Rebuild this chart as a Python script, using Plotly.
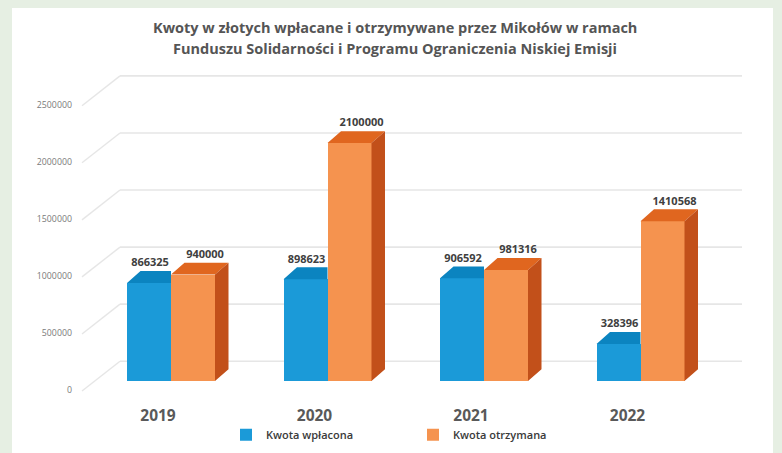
import plotly.graph_objects as go

# ---------------- data ----------------
years = ["2019", "2020", "2021", "2022"]
kwota_wplacona = [866325, 898623, 906592, 328396]
kwota_otrzymana = [940000, 2100000, 981316, 1410568]
y_tick_values = [0, 500000, 1000000, 1500000, 2000000, 2500000]
y_tick_labels = ["0", "500000", "1000000", "1500000", "2000000", "2500000"]
series_names = ["Kwota wpłacona", "Kwota otrzymana"]

title_lines = ["Kwoty w złotych wpłacane i otrzymywane przez Mikołów w ramach",
               "Funduszu Solidarności i Programu Ograniczenia Niskiej Emisji"]
source_text = "Górnośląsko-Zagłębiowska Metropolia"

# ---------------- style / geometry (screen px; page body adds an 8px offset) ----------------
W, H = 782, 453
OFF = 8
PL, PR, PT, PB = 75, 745, 60, 400          # plot area in screen px
X0PX, XSTEP = 171.0, 156.5                   # px of category 0 centre, px per category
Y0PX, YSCALE = 383.0, 57.0 / 500000          # px of value 0 on bar plane, px per unit
BAR_PX, DX_PX, DY_PX = 44.0, 13.5, 12.0
K_WALL = 287.0 / 2500000

BG = "#e6efe3"
BLUE, BLUE_TOP = "#1b9ad8", "#0b84c0"
ORANGE, ORANGE_TOP, ORANGE_SIDE = "#f5934f", "#e0661f", "#c2501a"
GRID = "#e6e6e6"
FONT = "Open Sans"


def xd(px):
    return (px - X0PX) / XSTEP


def yd(px):
    return (Y0PX - px) / YSCALE


def xp(px):
    return (px - PL) / (PR - PL)


def yp(px):
    return (PB - px) / (PB - PT)


bw = BAR_PX / XSTEP
dxu = DX_PX / XSTEP
dyu = DY_PX / YSCALE
pos = list(range(len(years)))

fig = go.Figure()

# front faces (bars)
fig.add_trace(go.Bar(x=[p - bw / 2 for p in pos], y=kwota_wplacona, width=bw,
                     marker=dict(color=BLUE, line=dict(width=0)), name=series_names[0]))
fig.add_trace(go.Bar(x=[p + bw / 2 for p in pos], y=kwota_otrzymana, width=bw,
                     marker=dict(color=ORANGE, line=dict(width=0)), name=series_names[1]))


def poly_trace(polys, color):
    xs, ys = [], []
    for poly in polys:
        for (a, b) in poly:
            xs.append(a)
            ys.append(b)
        xs.append(poly[0][0]); ys.append(poly[0][1])
        xs.append(None); ys.append(None)
    return go.Scatter(x=xs, y=ys, mode="lines", fill="toself", fillcolor=color,
                      line=dict(width=0, color=color), showlegend=False, hoverinfo="skip")


blue_tops, orange_tops, orange_sides = [], [], []
for p, b, o in zip(pos, kwota_wplacona, kwota_otrzymana):
    blue_tops.append([(p - bw, b), (p, b), (p, b + dyu), (p - bw + dxu, b + dyu)])
    orange_tops.append([(p, o), (p + bw, o), (p + bw + dxu, o + dyu), (p + dxu, o + dyu)])
    orange_sides.append([(p + bw, 0), (p + bw, o), (p + bw + dxu, o + dyu), (p + bw + dxu, dyu)])

fig.add_trace(poly_trace(blue_tops, BLUE_TOP))
fig.add_trace(poly_trace(orange_tops, ORANGE_TOP))
fig.add_trace(poly_trace(orange_sides, ORANGE_SIDE))

# data labels
lab_up = 19.5 / YSCALE
fig.add_trace(go.Scatter(x=[p - bw / 2 + 1 / XSTEP for p in pos], y=[v + lab_up for v in kwota_wplacona],
                         mode="text", text=[str(v) for v in kwota_wplacona],
                         textfont=dict(family=FONT, size=11, color="#404040", weight="bold"),
                         showlegend=False, hoverinfo="skip", cliponaxis=False))
fig.add_trace(go.Scatter(x=[p + bw / 2 + 12 / XSTEP for p in pos], y=[v + lab_up for v in kwota_otrzymana],
                         mode="text", text=[str(v) for v in kwota_otrzymana],
                         textfont=dict(family=FONT, size=11, color="#404040", weight="bold"),
                         showlegend=False, hoverinfo="skip", cliponaxis=False))

# background panel and 3D wall grid
shapes = [dict(type="rect", xref="paper", yref="paper",
               x0=xp(12), x1=xp(773), y0=yp(470), y1=yp(7),
               fillcolor="white", line=dict(width=0), layer="below")]
for v in y_tick_values:
    yb = yd(363 - v * K_WALL)
    yf = yd(393 - v * K_WALL)
    shapes.append(dict(type="line", xref="x", yref="y", x0=xd(120), x1=xd(742), y0=yb, y1=yb,
                       line=dict(color=GRID, width=1.6), layer="below"))
    shapes.append(dict(type="line", xref="x", yref="y", x0=xd(82), x1=xd(120), y0=yf, y1=yb,
                       line=dict(color=GRID, width=1.4), layer="below"))

annotations = [
    dict(text=title_lines[0], xref="paper", yref="paper", x=xp(395), y=yp(27),
         showarrow=False, font=dict(family=FONT, size=14.5, color="#555555", weight="bold"),
         xanchor="center", yanchor="middle"),
    dict(text=title_lines[1], xref="paper", yref="paper", x=xp(395), y=yp(48),
         showarrow=False, font=dict(family=FONT, size=14.5, color="#555555", weight="bold"),
         xanchor="center", yanchor="middle"),
    dict(text=source_text, xref="paper", yref="paper", x=xp(776.5), y=yp(451),
         showarrow=False, textangle=-90, font=dict(family=FONT, size=7.5, color="#666666"),
         xanchor="center", yanchor="bottom", borderpad=0),
]

fig.update_layout(
    width=W, height=H,
    margin=dict(l=PL - OFF, r=W - (PR - OFF), t=PT - OFF, b=H - (PB - OFF), pad=0),
    paper_bgcolor=BG, plot_bgcolor="rgba(0,0,0,0)",
    barmode="overlay", bargap=0,
    shapes=shapes, annotations=annotations,
    showlegend=True,
    legend=dict(orientation="h", x=xp(226), y=yp(437),
                xanchor="left", yanchor="middle", entrywidth=142, entrywidthmode="pixels",
                font=dict(family=FONT, size=11, color="#3a3a3a", weight=600),
                bgcolor="rgba(0,0,0,0)"),
    xaxis=dict(range=[xd(PL), xd(PR)], tickmode="array",
               tickvals=[p + (158 - X0PX) / XSTEP for p in pos], ticktext=years,
               showgrid=False, zeroline=False, showline=False, ticks="",
               ticklabelstandoff=6,
               tickfont=dict(family=FONT, size=15.5, color="#595959", weight="bold")),
    yaxis=dict(range=[yd(PB), yd(PT)], tickmode="array",
               tickvals=[yd(392 - v * K_WALL) for v in y_tick_values], ticktext=y_tick_labels,
               showgrid=False, zeroline=False, showline=False, ticks="",
               ticklabelstandoff=2,
               tickfont=dict(family=FONT, size=8.8, color="#7a7a7a")),
    hovermode=False,
)

fig.write_html("out.html", post_script="document.body.style.background='" + BG + "';")
